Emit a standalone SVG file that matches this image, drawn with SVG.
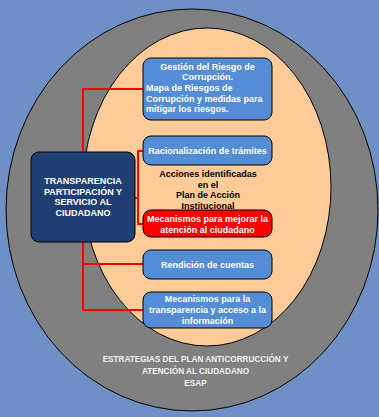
<svg xmlns="http://www.w3.org/2000/svg" width="379" height="417" viewBox="0 0 379 417">
<style>
text{font-family:"Liberation Sans",Arial,sans-serif;font-weight:bold;font-size:9px}
.w{fill:#ffffff}
.c{text-anchor:middle}
.box{fill:#538DD5;stroke:#000;stroke-width:1}
.red{fill:#FF0000;stroke:#000;stroke-width:1}
.con{stroke:#FF0000;stroke-width:2;fill:none}
</style>
<rect x="0" y="0" width="379" height="417" fill="#6F8FC7"/>
<g id="outer">
<ellipse cx="192" cy="210" rx="186" ry="201" fill="#808080" stroke="#000" stroke-width="1"/>
<text x="195.5" y="362" class="c" style="font-size:8.2px;fill:#F2F2F2">ESTRATEGIAS DEL PLAN ANTICORRUCCIÓN Y</text>
<text x="195.5" y="373.5" class="c" style="font-size:8.2px;fill:#F2F2F2">ATENCIÓN AL CIUDADANO</text>
<text x="195.5" y="385.5" class="c" style="font-size:8.2px;fill:#F2F2F2">ESAP</text>
</g>
<g id="inner">
<ellipse cx="207" cy="187" rx="124" ry="159" fill="#FFCC99" stroke="#000" stroke-width="1"/>
<g fill="#000">
<text x="208" y="177" class="c">Acciones identificadas</text>
<text x="208" y="187.5" class="c">en el</text>
<text x="208" y="198" class="c">Plan de Acción</text>
<text x="208" y="208.5" class="c">Institucional</text>
</g>
</g>
<g id="connectors">
<polyline class="con" points="143,89 83,89 83,310 143,310"/>
<line class="con" x1="83" y1="264" x2="143" y2="264"/>
<polyline class="con" points="143,151 138,151 138,224 143,224"/>
<line class="con" x1="135" y1="198" x2="138" y2="198"/>
</g>
<g id="center">
<rect x="31" y="152" width="104" height="90" rx="8" fill="#1F3F73" stroke="#000" stroke-width="1"/>
<text x="83" y="184" class="w c">TRANSPARENCIA</text>
<text x="83" y="194.5" class="w c">PARTICIPACIÓN Y</text>
<text x="83" y="205" class="w c">SERVICIO AL</text>
<text x="83" y="215.5" class="w c">CIUDADANO</text>
</g>
<g id="n1">
<rect class="box" x="143" y="58" width="129" height="62" rx="8"/>
<text x="207.5" y="69.5" class="w c">Gestión del Riesgo de</text>
<text x="207.5" y="80" class="w c">Corrupción.</text>
<text x="146" y="90.5" class="w">Mapa de Riesgos de</text>
<text x="146" y="101.5" class="w">Corrupción y medidas para</text>
<text x="146" y="112" class="w">mitigar los riesgos.</text>
</g>
<g id="n2">
<rect class="box" x="143" y="136" width="129" height="29" rx="8"/>
<text x="207.5" y="154" class="w c">Racionalización de trámites</text>
</g>
<g id="n3">
<rect class="red" x="143" y="210" width="129" height="27" rx="8"/>
<text x="207.5" y="222" class="w c">Mecanismos para mejorar la</text>
<text x="207.5" y="232.5" class="w c">atención al ciudadano</text>
</g>
<g id="n4">
<rect class="box" x="143" y="250" width="129" height="29" rx="8"/>
<text x="207.5" y="267.5" class="w c">Rendición de cuentas</text>
</g>
<g id="n5">
<rect class="box" x="143" y="292" width="129" height="36" rx="8"/>
<text x="207.5" y="302" class="w c">Mecanismos para la</text>
<text x="207.5" y="313" class="w c">transparencia y acceso a la</text>
<text x="207.5" y="323.5" class="w c">información</text>
</g>
</svg>
